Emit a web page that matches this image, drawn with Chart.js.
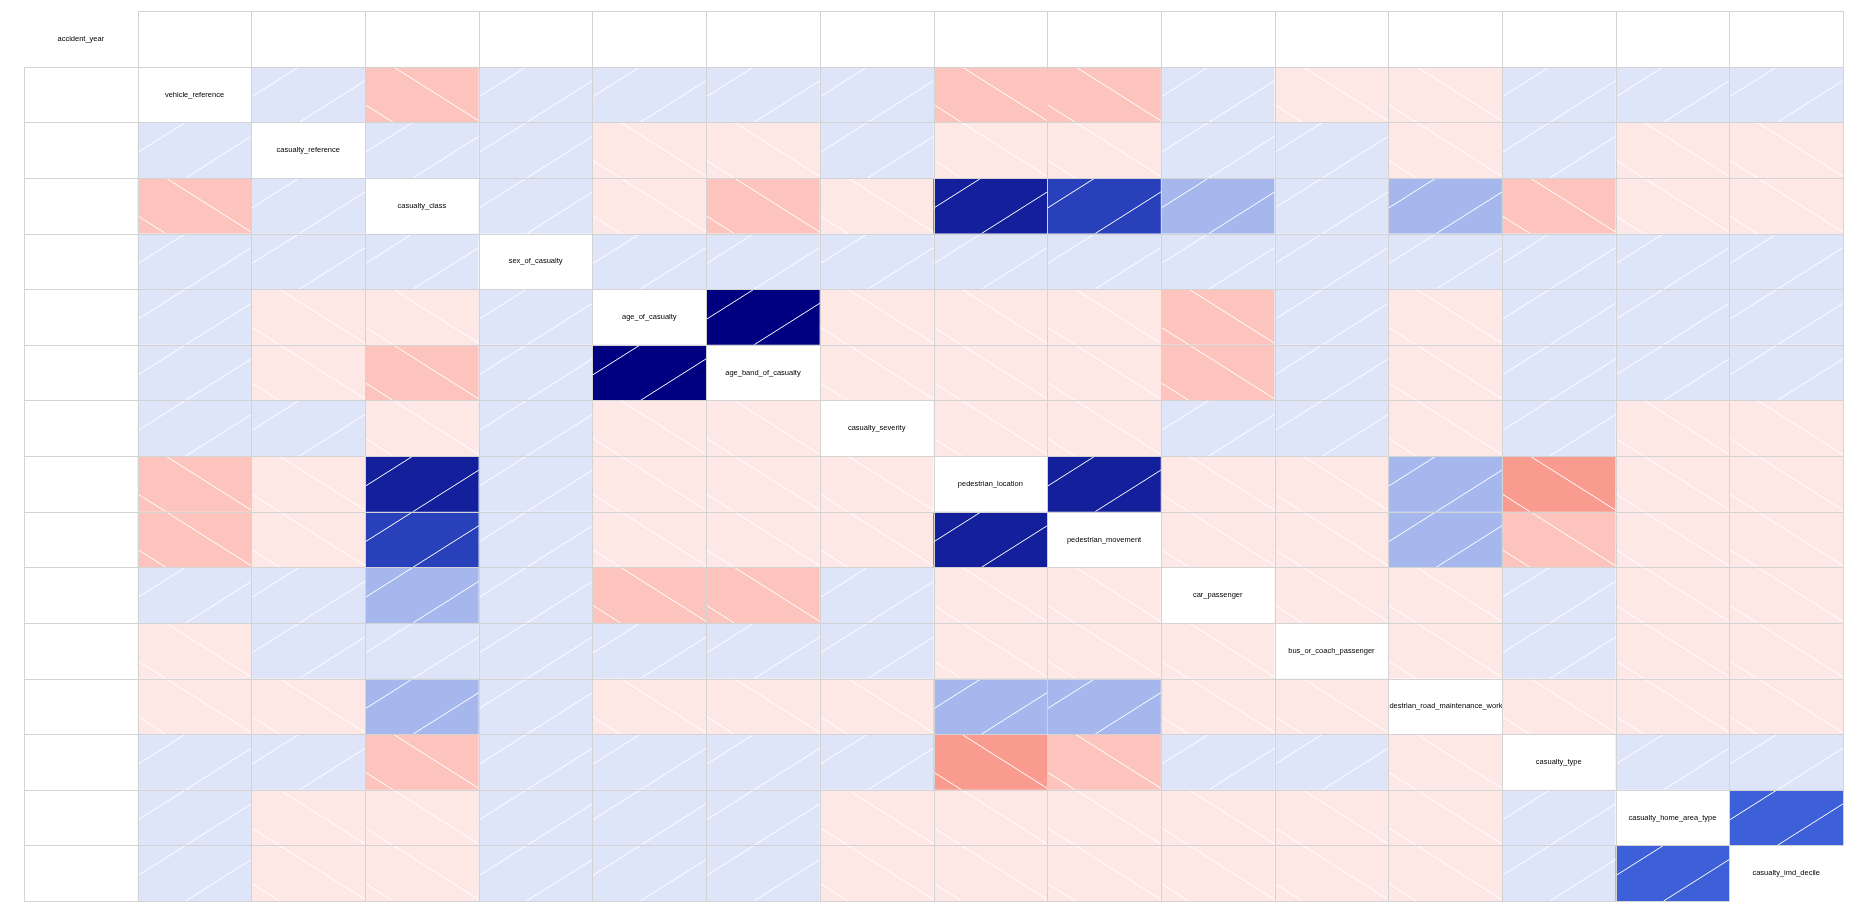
<!DOCTYPE html>
<html>
<head>
<meta charset="utf-8">
<script src="https://cdn.jsdelivr.net/npm/chart.js@4.4.1/dist/chart.umd.min.js"></script>
<style>
html,body{margin:0;padding:0;background:#ffffff;overflow:hidden}
canvas{display:block}
</style>
</head>
<body>
<canvas id="c" width="1860" height="911"></canvas>
<script>
// ---- data: variable names (columns == rows) ----
const variables = [
  'accident_year','vehicle_reference','casualty_reference','casualty_class',
  'sex_of_casualty','age_of_casualty','age_band_of_casualty','casualty_severity',
  'pedestrian_location','pedestrian_movement','car_passenger','bus_or_coach_passenger',
  'pedestrian_road_maintenance_worker','casualty_type','casualty_home_area_type','casualty_imd_decile'
];

// ---- correlation rows (null = undefined / NaN) ----
const row_accident_year          = [null, null, null, null, null, null, null, null, null, null, null, null, null, null, null, null];
const row_vehicle_reference      = [null, 1, 0.04, -0.22, 0.02, 0.03, 0.03, 0.01, -0.24, -0.23, 0.06, -0.02, -0.03, 0.07, 0.01, 0.02];
const row_casualty_reference     = [null, 0.04, 1, 0.08, 0.03, -0.06, -0.06, 0.02, -0.05, -0.04, 0.09, 0.05, -0.01, 0.03, -0.02, -0.03];
const row_casualty_class         = [null, -0.22, 0.08, 1, 0.06, -0.08, -0.17, -0.09, 0.86, 0.74, 0.27, 0.04, 0.22, -0.26, -0.05, -0.04];
const row_sex_of_casualty        = [null, 0.02, 0.03, 0.06, 1, 0.05, 0.05, 0.03, 0.07, 0.06, 0.08, 0.04, 0.02, 0.05, 0.01, 0.02];
const row_age_of_casualty        = [null, 0.03, -0.06, -0.08, 0.05, 1, 0.97, -0.04, -0.07, -0.06, -0.18, 0.07, -0.02, 0.09, 0.03, 0.08];
const row_age_band_of_casualty   = [null, 0.03, -0.06, -0.17, 0.05, 0.97, 1, -0.04, -0.08, -0.07, -0.19, 0.06, -0.02, 0.08, 0.03, 0.08];
const row_casualty_severity      = [null, 0.01, 0.02, -0.09, 0.03, -0.04, -0.04, 1, -0.09, -0.08, 0.02, 0.01, -0.03, 0.04, -0.02, -0.03];
const row_pedestrian_location    = [null, -0.24, -0.05, 0.86, 0.07, -0.07, -0.08, -0.09, 1, 0.88, -0.11, -0.03, 0.21, -0.38, -0.05, -0.04];
const row_pedestrian_movement    = [null, -0.23, -0.04, 0.74, 0.06, -0.06, -0.07, -0.08, 0.88, 1, -0.10, -0.03, 0.19, -0.29, -0.05, -0.04];
const row_car_passenger          = [null, 0.06, 0.09, 0.27, 0.08, -0.18, -0.19, 0.02, -0.11, -0.10, 1, -0.02, -0.04, 0.06, -0.03, -0.02];
const row_bus_or_coach_passenger = [null, -0.02, 0.05, 0.04, 0.04, 0.07, 0.06, 0.01, -0.03, -0.03, -0.02, 1, -0.01, 0.03, -0.04, -0.03];
const row_ped_road_maint_worker  = [null, -0.03, -0.01, 0.22, 0.02, -0.02, -0.02, -0.03, 0.21, 0.19, -0.04, -0.01, 1, -0.05, -0.02, -0.01];
const row_casualty_type          = [null, 0.07, 0.03, -0.26, 0.05, 0.09, 0.08, 0.04, -0.38, -0.29, 0.06, 0.03, -0.05, 1, 0.02, 0.03];
const row_casualty_home_area     = [null, 0.01, -0.02, -0.05, 0.01, 0.03, 0.03, -0.02, -0.05, -0.05, -0.03, -0.04, -0.02, 0.02, 1, 0.56];
const row_casualty_imd_decile    = [null, 0.02, -0.03, -0.04, 0.02, 0.08, 0.08, -0.03, -0.04, -0.04, -0.02, -0.03, -0.01, 0.03, 0.56, 1];

const matrix = [
  row_accident_year, row_vehicle_reference, row_casualty_reference, row_casualty_class,
  row_sex_of_casualty, row_age_of_casualty, row_age_band_of_casualty, row_casualty_severity,
  row_pedestrian_location, row_pedestrian_movement, row_car_passenger, row_bus_or_coach_passenger,
  row_ped_road_maint_worker, row_casualty_type, row_casualty_home_area, row_casualty_imd_decile
];

// ---- styling ----
const GRID = '#d3d3d3';
function cellColor(v) {
  if (v === null || v === undefined) return '#ffffff';
  if (v >= 0.9) return '#000080';
  if (v >= 0.8) return '#131f9b';
  if (v >= 0.65) return '#2841bb';
  if (v >= 0.5) return '#3d60d8';
  if (v >= 0.15) return '#a6b7ee';
  if (v >= 0) return '#dfe5f8';
  if (v > -0.15) return '#fee8e6';
  if (v > -0.3) return '#fcc4bd';
  return '#fa9b8f';
}
const N = variables.length;
// which sides of a cell carry a grid border (diagonal cells have none of their own)
function borderFor(r, c) {
  if (r === c) return {top: 0, left: 0, right: 0, bottom: 0};
  return {
    left: 1,
    top: 1,
    right: (c === N - 1 || c + 1 === r) ? 1 : 0,
    bottom: (r === N - 1 || r + 1 === c) ? 1 : 0
  };
}

const datasets = matrix.map((row, r) => ({
  label: variables[r],
  data: row.map(() => [r, r + 1]),
  backgroundColor: row.map((v, c) => (r === c ? '#ffffff' : cellColor(v))),
  borderWidth: 0,
  borderSkipped: false,
  inflateAmount: 0,
  grouped: false,
  categoryPercentage: 1,
  barPercentage: 1
}));

// hatch lines, crisp cell borders and diagonal labels
const HATCH_W = 88;
const hatchPlugin = {
  id: 'hatchAndLabels',
  afterDatasetsDraw(chart) {
    const ctx = chart.ctx;
    const cells = [];
    chart.data.datasets.forEach((ds, r) => {
      const meta = chart.getDatasetMeta(r);
      meta.data.forEach((bar, c) => {
        const p = bar.getProps(['x', 'y', 'base', 'width'], true);
        cells.push({r, c, x: p.x, left: p.x - p.width / 2, right: p.x + p.width / 2,
                    top: Math.min(p.y, p.base), bottom: Math.max(p.y, p.base)});
      });
    });
    // hatching
    cells.forEach(({r, c, left, right, top, bottom}) => {
      if (r === c) return;
      const v = matrix[r][c];
      if (v === null || v === undefined) return;
      ctx.save();
      ctx.beginPath();
      ctx.rect(left, top, right - left, bottom - top);
      ctx.clip();
      ctx.strokeStyle = '#ffffff';
      ctx.lineWidth = 1;
      ctx.beginPath();
      for (let k = -2; k <= 2; k++) {
        if (v >= 0) {
          const xb = left + 48 + k * HATCH_W;
          ctx.moveTo(xb, bottom);
          ctx.lineTo(xb + HATCH_W, top);
        } else {
          const xt = left + 28 + k * HATCH_W;
          ctx.moveTo(xt, top);
          ctx.lineTo(xt + HATCH_W, bottom);
        }
      }
      ctx.stroke();
      ctx.restore();
    });
    // borders (1px, pixel-snapped)
    ctx.save();
    ctx.fillStyle = GRID;
    cells.forEach(({r, c, left, right, top, bottom}) => {
      const b = borderFor(r, c);
      const L = Math.round(left), R = Math.round(right), T = Math.round(top), B = Math.round(bottom);
      if (b.left) ctx.fillRect(L, T, 1, B - T + 1);
      if (b.top) ctx.fillRect(L, T, R - L + 1, 1);
      if (b.right) ctx.fillRect(R, T, 1, B - T + 1);
      if (b.bottom) ctx.fillRect(L, B, R - L + 1, 1);
    });
    ctx.restore();
    // diagonal labels
    cells.forEach(({r, c, x, left, right, top, bottom}) => {
      if (r !== c) return;
      ctx.save();
      ctx.beginPath();
      ctx.rect(Math.round(left) + 1, top, Math.round(right) - Math.round(left) - 1, bottom - top);
      ctx.clip();
      ctx.fillStyle = '#000000';
      ctx.font = '7.5px "Liberation Sans", Arial, sans-serif';
      ctx.textAlign = 'center';
      ctx.textBaseline = 'middle';
      ctx.fillText(variables[r], x, (top + bottom) / 2);
      ctx.restore();
    });
  }
};

new Chart(document.getElementById('c'), {
  type: 'bar',
  data: { labels: variables, datasets: datasets },
  options: {
    responsive: false,
    animation: false,
    devicePixelRatio: 1,
    layout: { padding: { left: 24, right: 17, top: 11, bottom: 10 } },
    plugins: { legend: { display: false }, tooltip: { enabled: false } },
    scales: {
      x: { type: 'category', display: false, offset: true, grid: { display: false } },
      y: { type: 'linear', display: false, min: 0, max: N, reverse: true, grid: { display: false } }
    }
  },
  plugins: [hatchPlugin]
});
</script>
</body>
</html>
